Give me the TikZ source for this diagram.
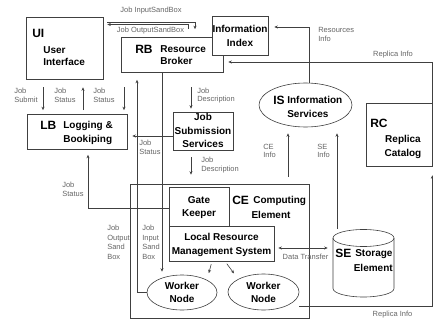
\documentclass[tikz,border=0pt]{standalone}
\usepackage{fontspec}
\setmainfont{Liberation Sans}
\usetikzlibrary{arrows.meta,calc,shapes.geometric}
\begin{document}
\begin{tikzpicture}[x=1pt,y=-1pt,line width=0.6pt,
  box/.style={draw=black!75,fill=white,inner sep=0pt},
  ell/.style={draw=black!75,fill=white,ellipse,inner sep=0pt},
  arr/.style={draw=black!75,-{Stealth[length=3.5pt,width=3pt]}},
  darr/.style={draw=black!75,{Stealth[length=3.5pt,width=3pt]}-{Stealth[length=3.5pt,width=3pt]}},
  mt/.style={font=\bfseries\fontsize{10}{13}\selectfont,inner sep=0pt},
  ab/.style={font=\bfseries\fontsize{12}{14}\selectfont,inner sep=0pt,anchor=base west},
  lb/.style={font=\fontsize{7.5}{9.5}\selectfont,text=black!60,inner sep=0pt}]
\useasboundingbox[fill=white] (0,0) rectangle (433,320);

% ---- boxes ----
\node[box,minimum width=77pt,minimum height=62pt] (UI) at (64.5,48) {};
\node[box,minimum width=102pt,minimum height=35pt] (RB) at (172,55) {};
\node[box,minimum width=56pt,minimum height=39pt] (II) at (240,35.5) {};
\node[box,minimum width=100pt,minimum height=35pt] (LB) at (77,132) {};
\node[box,minimum width=60pt,minimum height=38pt] (JSS) at (203,131) {};
\node[ell,minimum width=93pt,minimum height=44pt] (IS) at (305.5,105) {};
\node[box,minimum width=66pt,minimum height=63pt] (RC) at (399,134.5) {};
\node[box,minimum width=179pt,minimum height=134pt] (CE) at (219.5,251) {};
\node[box,minimum width=60pt,minimum height=39pt] (GK) at (199,206.5) {};
\node[box,minimum width=105pt,minimum height=35pt] (LRMS) at (221.5,243.5) {};
\node[ell,minimum width=70pt,minimum height=35pt] (WN1) at (182,292.5) {};
\node[ell,minimum width=71pt,minimum height=36pt] (WN2) at (263.5,292) {};
\node[inner sep=0pt,minimum width=61pt,minimum height=68pt] (SE) at (363.5,263) {};
% storage cylinder
\draw[black!75] (363.5,238) ellipse [x radius=30.5, y radius=8.5];
\draw[black!75] (333,238) -- (333,288.5)
  .. controls (333,293.2) and (346.7,297) .. (363.5,297)
  .. controls (380.3,297) and (394,293.2) .. (394,288.5) -- (394,238);

% ---- texts in boxes ----
\node[ab] (tUI) at (32,37.3) {UI};
\node[mt,anchor=base west] (tUI1) at (43,53.6) {User};
\node[mt,anchor=base west] (tUI2) at (43,65.6) {Interface};
\node[ab] (tRB) at (135,53.3) {RB};
\node[mt,anchor=base west] (tRB1) at (160,52.6) {Resource};
\node[mt,anchor=base west] (tRB2) at (160,64.6) {Broker};
\node[mt,anchor=base] (tII1) at (240,32.6) {Information};
\node[mt,anchor=base] (tII2) at (240,46.6) {Index};
\node[ab] (tLB) at (40,129.3) {LB};
\node[mt,anchor=base west] (tLB1) at (63,128.6) {Logging \&};
\node[mt,anchor=base west] (tLB2) at (63,142.6) {Bookiping};
\node[mt,anchor=base] (tJS1) at (203,120.6) {Job};
\node[mt,anchor=base] (tJS2) at (203,134.1) {Submission};
\node[mt,anchor=base] (tJS3) at (203,147.1) {Services};
\node[ab] (tIS) at (273,104.3) {IS};
\node[mt,anchor=base west] (tIS1) at (287,103.6) {Information};
\node[mt,anchor=base west] (tIS2) at (287,117.6) {Services};
\node[ab] (tRC) at (370,127.3) {RC};
\node[mt,anchor=base] (tRC1) at (403,142.1) {Replica};
\node[mt,anchor=base] (tRC2) at (403,156.1) {Catalog};
\node[ab] (tCE) at (232,204.3) {CE};
\node[mt,anchor=base west] (tCE1) at (253,203.6) {Computing};
\node[mt,anchor=base] (tCE2) at (271,218.6) {Element};
\node[mt,anchor=base] (tGK1) at (199,203.6) {Gate};
\node[mt,anchor=base] (tGK2) at (199,216.6) {Keeper};
\node[mt,anchor=base] (tLR1) at (221.5,240.6) {Local Resource};
\node[mt,anchor=base] (tLR2) at (221.5,254.6) {Management System};
\node[mt,anchor=base] (tW11) at (182,289.6) {Worker};
\node[mt,anchor=base] (tW12) at (182,302.6) {Node};
\node[mt,anchor=base] (tW21) at (263.5,289.6) {Worker};
\node[mt,anchor=base] (tW22) at (263.5,302.6) {Node};
\node[ab] (tSE) at (335,257.3) {SE};
\node[mt,anchor=base west] (tSE1) at (355,256.6) {Storage};
\node[mt,anchor=base east] (tSE2) at (393,271.6) {Element};

% ---- connectors ----
\draw[arr,shorten <=4pt,shorten >=8pt] (UI.east |- 0,22) -| (RB.north -| 195,0);
\draw[arr,shorten <=8pt,shorten >=4pt] (RB.north -| 188,0) |- (UI.east |- 0,24.5);
\draw[arr,shorten >=6pt] (IS.north -| 309,0) |- (II.east |- 0,27);
\draw[arr,shorten >=5pt] (RC.north east) |- (RB.east |- 0,62);
\draw[arr,shorten <=7pt,shorten >=6pt] (CE.north -| 288,0) -- (IS.south -| 288,0);
\draw[arr,shorten >=6pt] (SE.north -| 337,0) -- (IS.south -| 337,0);
\draw[arr,shorten >=9pt] (WN2.east |- 0,306) -| (RC.south east);
\draw[darr,shorten <=4pt,shorten >=5pt] (LRMS.east |- 0,248) -- (SE.west |- 0,248);
\draw[arr,shorten <=3pt,shorten >=7pt] (LRMS.south -| 212,0) -- (WN1.north east);
\draw[arr,shorten <=3pt,shorten >=7pt] (LRMS.south -| 225,0) -- (WN2.north west);
\draw[arr,shorten >=7pt] (WN1.west) -| (RB.south -| 137,0);
\draw[arr,shorten >=3pt] (RB.south -| 162,0) -- (WN1.north -| 162,0);
\draw[arr,shorten >=5pt] (GK.west |- 0,208) -| (LB.south -| 88,0);
\draw[arr,shorten >=5pt] (JSS.west |- 0,136) -- (LB.east |- 0,136);
\draw[arr,shorten <=14.5pt,shorten >=3pt] (RB.south -| 191,0) -- (JSS.north -| 191,0);
\draw[arr,shorten <=7pt,shorten >=9pt] (JSS.south -| 191,0) -- (CE.north -| 191,0);
\draw[arr,shorten <=8pt,shorten >=4pt] (UI.south -| 43,0) -- (LB.north -| 43,0);
\draw[arr,shorten <=4pt,shorten >=8pt] (LB.north -| 83,0) -- (UI.south -| 83,0);
\draw[arr,shorten <=14.5pt,shorten >=4pt] (RB.south -| 124,0) -- (LB.north -| 124,0);

% ---- connector labels ----
\node[lb,anchor=base] (lISB) at (151,12.7) {Job InputSandBox};
\node[lb,anchor=base] (lOSB) at (150.5,32.7) {Job OutputSandBox};
\node[lb,anchor=base west] (lRI1) at (318,32.7) {Resources};
\node[lb,anchor=base west] (lRI2) at (318,41.7) {Info};
\node[lb,anchor=base] (lRep1) at (393,56.7) {Replica Info};
\node[lb,anchor=base west] (lJS1) at (14,93.7) {Job};
\node[lb,anchor=base west] (lJS2) at (14,102.7) {Submit};
\node[lb,anchor=base west] (lST1) at (54,93.7) {Job};
\node[lb,anchor=base west] (lST2) at (54,102.7) {Status};
\node[lb,anchor=base west] (lST3) at (93,93.7) {Job};
\node[lb,anchor=base west] (lST4) at (93,102.7) {Status};
\node[lb,anchor=base west] (lJD1) at (197,93.2) {Job};
\node[lb,anchor=base west] (lJD2) at (197,101.7) {Description};
\node[lb,anchor=base west] (lST5) at (139,145.7) {Job};
\node[lb,anchor=base west] (lST6) at (139,154.7) {Status};
\node[lb,anchor=base west] (lJD3) at (201,162.7) {Job};
\node[lb,anchor=base west] (lJD4) at (201,171.2) {Description};
\node[lb,anchor=base west] (lST7) at (62,187.7) {Job};
\node[lb,anchor=base west] (lST8) at (62,196.7) {Status};
\node[lb,anchor=base west] (lCI1) at (263,149.7) {CE};
\node[lb,anchor=base west] (lCI2) at (263,157.7) {Info};
\node[lb,anchor=base west] (lSI1) at (317,149.7) {SE};
\node[lb,anchor=base west] (lSI2) at (317,157.7) {Info};
\node[lb,anchor=base west] (lJO1) at (107,230.7) {Job};
\node[lb,anchor=base west] (lJO2) at (107,240.7) {Output};
\node[lb,anchor=base west] (lJO3) at (107,249.7) {Sand};
\node[lb,anchor=base west] (lJO4) at (107,259.7) {Box};
\node[lb,anchor=base west] (lJI1) at (142,230.7) {Job};
\node[lb,anchor=base west] (lJI2) at (142,240.7) {Input};
\node[lb,anchor=base west] (lJI3) at (142,249.7) {Sand};
\node[lb,anchor=base west] (lJI4) at (142,259.7) {Box};
\node[lb,anchor=base] (lDT) at (305.5,259.7) {Data Transfer};
\node[lb,anchor=base] (lRep2) at (392.5,316.7) {Replica Info};
\end{tikzpicture}
\end{document}
